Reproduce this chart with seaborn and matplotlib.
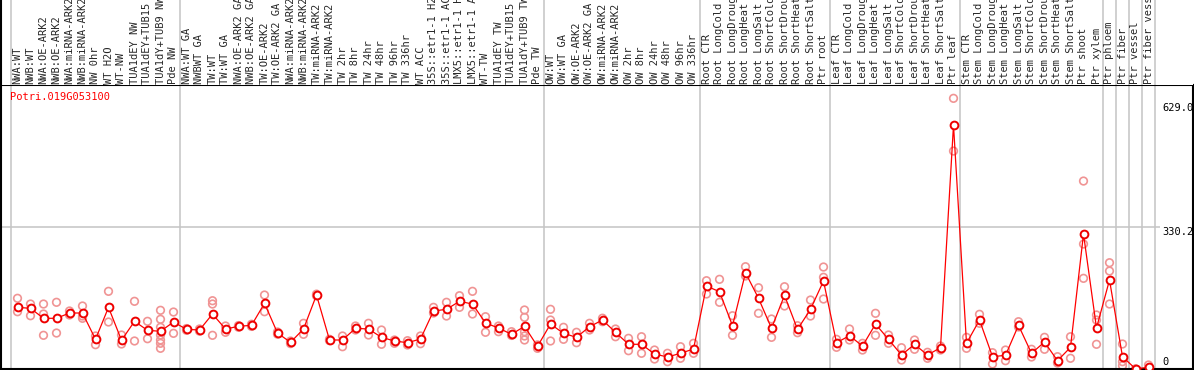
import numpy as np
import pandas as pd
import seaborn as sns
import matplotlib.pyplot as plt

gene = "Potri.019G053100"

samples = [
    "NWA:WT", "NWB:WT", "NWA:OE-ARK2", "NWB:OE-ARK2", "NWA:miRNA-ARK2", "NWB:miRNA-ARK2",
    "NW 0hr", "WT H2O", "WT-NW", "TUA1dEY NW", "TUA1dEY+TUB15 NW", "TUA1dY+TUB9 NW", "Pde NW",
    "NWA:WT GA", "NWBWT GA", "TW:WT", "TW:WT GA", "NWA:OE-ARK2 GA", "NWB:OE-ARK2 GA",
    "TW:OE-ARK2", "TW:OE-ARK2 GA", "NWA:miRNA-ARK2", "NWB:miRNA-ARK2", "TW:miRNA-ARK2",
    "TW:miRNA-ARK2", "TW 2hr", "TW 8hr", "TW 24hr", "TW 48hr", "TW 96hr", "TW 336hr", "WT ACC",
    "35S::etr1-1 H2O", "35S::etr1-1 ACC", "LMX5::etr1-1 H2O", "LMX5::etr1-1 ACC", "WT-TW",
    "TUA1dEY TW", "TUA1dEY+TUB15 TW", "TUA1dY+TUB9 TW", "Pde TW",
    "OW:WT", "OW:WT GA", "OW:OE-ARK2", "OW:OE-ARK2 GA", "OW:miRNA-ARK2", "OW:miRNA-ARK2",
    "OW 2hr", "OW 8hr", "OW 24hr", "OW 48hr", "OW 96hr", "OW 336hr",
    "Root CTR", "Root LongCold", "Root LongDrought", "Root LongHeat", "Root LongSalt",
    "Root ShortCold", "Root ShortDrought", "Root ShortHeat", "Root ShortSalt", "Ptr root",
    "Leaf CTR", "Leaf LongCold", "Leaf LongDrought", "Leaf LongHeat", "Leaf LongSalt",
    "Leaf ShortCold", "Leaf ShortDrought", "Leaf ShortHeat", "Leaf ShortSalt", "Ptr leaf",
    "Stem CTR", "Stem LongCold", "Stem LongDrought", "Stem LongHeat", "Stem LongSalt",
    "Stem ShortCold", "Stem ShortDrought", "Stem ShortHeat", "Stem ShortSalt", "Ptr shoot",
    "Ptr xylem", "Ptr phloem", "Ptr fiber", "Ptr vessel", "Ptr fiber vessel",
]

# number of samples in each block between the grey separators
group_sizes = [13, 28, 12, 10, 10, 11, 1, 1, 1, 1]

means = [
    143.3, 141.0, 117.8, 117.8, 130.1, 130.1, 69.0, 143.3, 66.7, 110.8, 89.9, 87.6, 109.2,
    92.2, 90.6, 127.8, 92.9, 99.2, 101.5, 152.6, 83.6, 62.0, 92.9, 171.9, 67.4, 67.4, 94.6,
    92.9, 73.6, 65.1, 61.1, 69.7, 134.8, 138.7, 157.3, 151.0, 106.9, 95.3, 80.6, 99.2, 52.7,
    104.5, 82.9, 73.6, 98.3, 113.8, 85.3, 57.4, 57.4, 34.9, 27.9, 36.5, 46.5,
    192.8, 179.6, 100.6, 223.7, 164.3, 94.6, 171.2, 92.2, 138.7, 204.5,
    61.1, 77.4, 53.4, 104.5, 69.0, 32.5, 57.4, 32.5, 49.5, 566.9,
    59.7, 113.8, 28.6, 31.8, 101.5, 36.5, 62.7, 19.3, 50.4, 313.7, 95.3,
    206.8, 28.6, 0.5, 3.9,
]

replicates = [
    [164.3, 133.1], [151.0, 123.8], [151.0, 127.8, 78.3], [155.0, 83.6], [134.8, 125.5],
    [146.4, 117.8, 123.1], [76.7, 56.5], [180.5, 109.2], [79.0, 58.1], [157.3, 65.1],
    [110.8, 70.4], [136.4, 115.5, 96.9, 79.0, 67.4, 59.7, 48.1], [132.4, 82.9],
    [90.0, 94.0], [88.0, 93.0], [158.7, 151.0, 78.3], [99.9, 85.3], [97.0, 101.0],
    [99.0, 104.0], [171.9, 133.1], [81.0, 86.0], [59.0, 65.0], [106.2, 80.6], [170.0, 174.0],
    [66.0, 69.0], [76.7, 51.8], [99.9, 90.6], [106.2, 79.0], [90.6, 57.4], [67.4, 59.7],
    [65.8, 55.8], [76.7, 58.8], [143.3, 130.1], [155.0, 123.1], [170.3, 143.3], [180.5, 127.8],
    [121.5, 85.3], [99.9, 86.7], [86.7, 78.0], [137.1, 120.1, 86.7, 76.7, 67.4], [48.0, 56.0],
    [138.7, 113.8, 65.1], [96.9, 69.0], [85.3, 61.1], [106.2, 90.6], [110.0, 118.0],
    [92.9, 75.0], [71.3, 42.5], [75.0, 36.5], [44.1, 23.2], [36.5, 17.0], [51.8, 24.9],
    [59.7, 36.5],
    [205.2, 174.3], [208.4, 155.0], [123.8, 78.3], [237.7, 216.1], [188.9, 129.4],
    [116.2, 73.6], [191.2, 146.4], [100.6, 84.3], [160.3, 123.1], [237.0, 213.1, 162.6],
    [69.0, 50.4], [92.9, 67.4], [59.7, 44.1], [129.4, 78.3], [79.0, 59.7], [49.5, 20.9],
    [67.4, 45.8], [38.8, 24.9], [53.4, 44.1], [629.0, 506.5],
    [73.6, 48.1], [127.1, 106.2], [37.9, 11.6], [44.1, 19.3], [109.9, 97.6], [45.8, 27.9],
    [73.6, 45.8], [28.6, 13.9], [75.0, 24.9], [436.8, 290.4, 210.7], [125.5, 113.8, 57.4],
    [247.0, 227.7, 151.0], [58.1, 17.0, 7.7], [0.0, 0.0], [9.3, 0.0],
]

tick_values = [629.0, 330.2, 0]
tick_labels = ["629.0", "330.2", "0"]

pos = np.arange(len(samples))
mean_df = pd.DataFrame({"pos": pos, "value": means})
rep_df = pd.DataFrame(
    [(i, v) for i, reps in enumerate(replicates) for v in reps], columns=["pos", "value"]
)

sns.set_style("white")
plt.rcParams["font.family"] = ["DejaVu Sans Mono", "DejaVu Sans"]

W, H = 1194, 370
fig = plt.figure(figsize=(W / 100, H / 100), dpi=100)
ax = fig.add_axes([1 / W, 1 / H, 1192 / W, 284 / H])
hdr = fig.add_axes([1 / W, 285 / H, 1192 / W, 85 / H])

xlim = ((1 - 17.5) / 13, (1193 - 17.5) / 13)
bounds = np.concatenate([[-0.5], np.cumsum(group_sizes) - 0.5])

for a in (ax, hdr):
    a.set_xlim(*xlim)
    for b in bounds:
        a.axvline(b, color="#c4c4c4", lw=1.1, zorder=0)
ax.set_ylim(0, 660)
hdr.set_ylim(0, 85)

ax.hlines(330.2, xlim[0], bounds[-1] + 0.4, color="#c4c4c4", lw=1.1, zorder=0)

sns.scatterplot(data=rep_df, x="pos", y="value", ax=ax, marker="o", s=30,
                facecolor="none", edgecolor="#f09494", linewidth=1.2, zorder=2)
sns.lineplot(data=mean_df, x="pos", y="value", ax=ax, color="#ff0000", lw=0.9,
             marker="o", ms=5.6, mfc="white", mec="#ee0000", mew=1.4, zorder=3)

offsets = [-7, -3.5, 5]
for v, lab, off in zip(tick_values, tick_labels, offsets):
    ax.annotate(lab, xy=(bounds[-1] + 0.6, v), xytext=(0, off), textcoords="offset points",
                fontsize=7.5, va="center", ha="left", color="black")

ax.text(9 / 1192, 0.958, gene, transform=ax.transAxes, color="red", fontsize=7.5,
        va="center", ha="left")

for i, s in enumerate(samples):
    hdr.text(i, 1.5, s, rotation=90, ha="center", va="bottom", fontsize=7.5)

for a in (ax, hdr):
    a.set_xticks([])
    a.set_yticks([])
    a.set_xlabel("")
    a.set_ylabel("")

for sp in ax.spines.values():
    sp.set_color("black")
    sp.set_linewidth(1.5)
hdr.spines["left"].set_color("black")
hdr.spines["left"].set_linewidth(1.5)
for k in ("top", "right", "bottom"):
    hdr.spines[k].set_visible(False)

fig.savefig("out.png", dpi=100)
